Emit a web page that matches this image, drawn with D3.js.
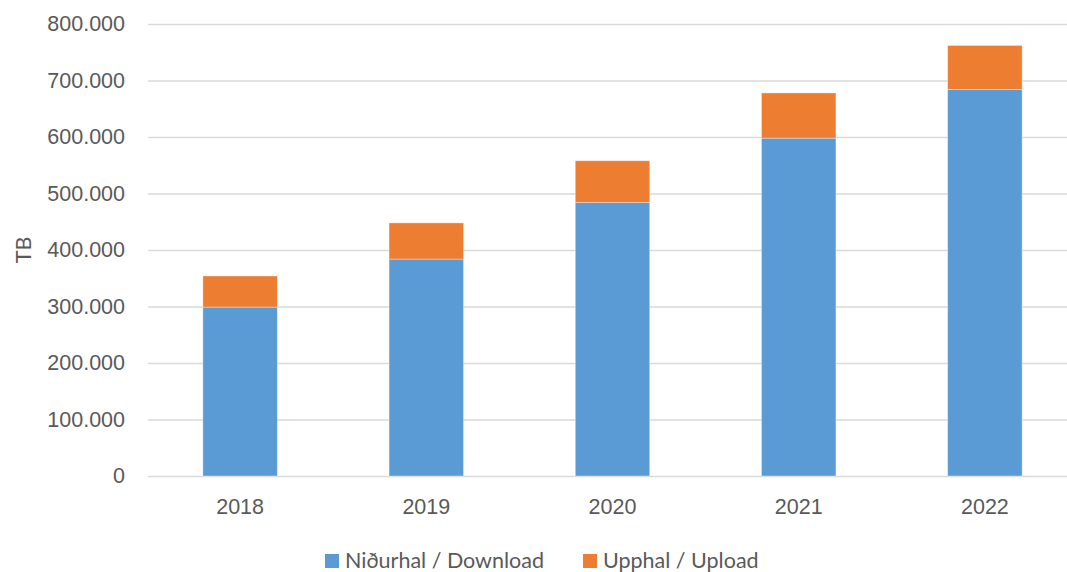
<!DOCTYPE html>
<html>
<head>
<meta charset="utf-8">
<script src="https://cdn.jsdelivr.net/npm/d3@7"></script>
<style>
  html, body { margin: 0; padding: 0; background: #fff; }
  svg { display: block; font-family: Lato, "Open Sans", sans-serif; }
</style>
</head>
<body>
<svg id="chart" width="1067" height="572"></svg>
<script>
// Yearly traffic in TB, stacked: download at the bottom, upload on top
const years = ["2018", "2019", "2020", "2021", "2022"];
const download = [299000, 384000, 484000, 598000, 684000];
const upload = [55000, 64000, 74000, 80000, 78000];
const yTicks = [0, 100000, 200000, 300000, 400000, 500000, 600000, 700000, 800000];
const seriesNames = ["Niðurhal / Download", "Upphal / Upload"];
const seriesColors = ["#5b9bd5", "#ed7d31"];
const yTitle = "TB";

const svg = d3.select("#chart");
const textColor = "#595959";
const fontSize = 21.5;

const x = d3.scaleBand()
  .domain(years)
  .range([147, 1078])
  .paddingInner(0.6)
  .paddingOuter(0.3);

const y = d3.scaleLinear()
  .domain([0, 800000])
  .range([476, 24]);

// Thousands separated by a period, as in Icelandic notation
const fmt = v => v === 0 ? "0" : d3.format(",")(v).replace(/,/g, ".");

// Gridlines and tick labels
const yAxis = d3.axisLeft(y)
  .tickValues(yTicks)
  .tickFormat(fmt)
  .tickSize(-(1078 - 148))
  .tickPadding(23);

const gy = svg.append("g")
  .attr("transform", "translate(148,0)")
  .call(yAxis);
gy.select(".domain").remove();
gy.selectAll(".tick line")
  .attr("stroke", "#d9d9d9")
  .attr("stroke-width", 1.5);
gy.selectAll(".tick text")
  .attr("fill", textColor)
  .attr("font-size", fontSize);

// Category labels along the bottom
const xAxis = d3.axisBottom(x).tickSize(0).tickPadding(23);
const gx = svg.append("g")
  .attr("transform", "translate(0,476)")
  .call(xAxis);
gx.select(".domain").remove();
gx.selectAll(".tick text")
  .attr("fill", textColor)
  .attr("font-size", fontSize);

// Stacked bars
const rows = years.map((yr, i) => ({ year: yr, download: download[i], upload: upload[i] }));
const stack = d3.stack().keys(["download", "upload"]);
const layers = stack(rows);

svg.append("g")
  .selectAll("g")
  .data(layers)
  .join("g")
  .attr("fill", (d, i) => seriesColors[i])
  .selectAll("rect")
  .data(d => d)
  .join("rect")
  .attr("x", d => x(d.data.year))
  .attr("width", x.bandwidth())
  .attr("y", d => y(d[1]))
  .attr("height", d => y(d[0]) - y(d[1]))
  .attr("stroke", "#ffffff")
  .attr("stroke-opacity", 0.45)
  .attr("stroke-width", 0.8);

// Axis title
svg.append("text")
  .attr("transform", "translate(31,250) rotate(-90)")
  .attr("text-anchor", "middle")
  .attr("fill", textColor)
  .attr("font-size", fontSize)
  .text(yTitle);

// Legend
const legendItems = [
  { name: seriesNames[0], color: seriesColors[0], x: 325 },
  { name: seriesNames[1], color: seriesColors[1], x: 583 }
];
const lg = svg.append("g");
legendItems.forEach(item => {
  lg.append("rect")
    .attr("x", item.x)
    .attr("y", 554)
    .attr("width", 14)
    .attr("height", 14)
    .attr("fill", item.color);
  lg.append("text")
    .attr("x", item.x + 20)
    .attr("y", 568)
    .attr("fill", textColor)
    .attr("font-size", fontSize)
    .text(item.name);
});
</script>
</body>
</html>
